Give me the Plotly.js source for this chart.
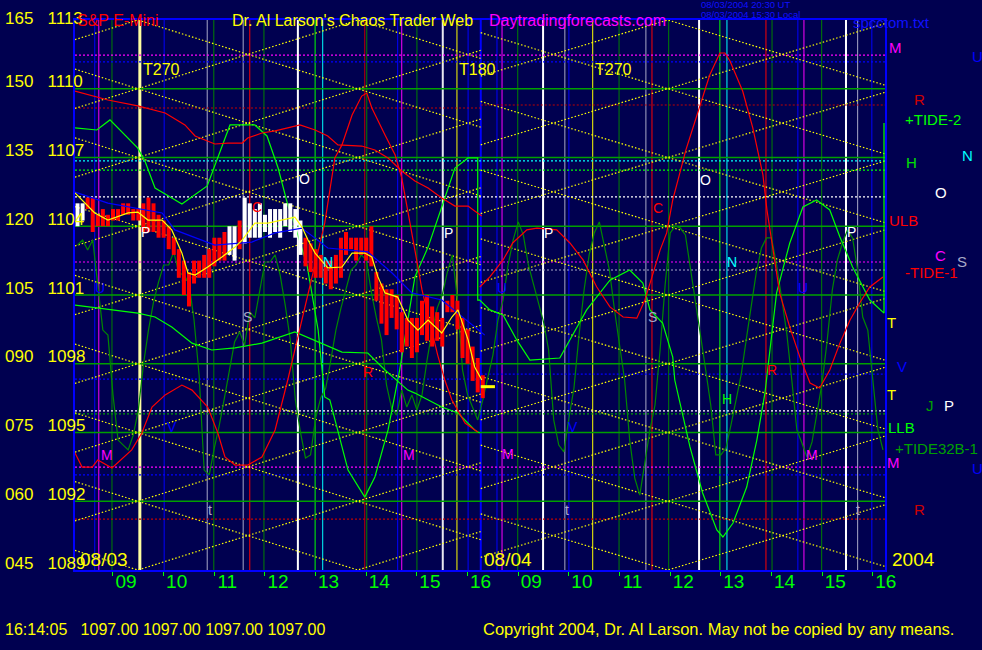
<!DOCTYPE html>
<html><head><meta charset="utf-8">
<script src="https://cdn.plot.ly/plotly-3.0.1.min.js"></script>
<style>html,body{margin:0;padding:0;background:#000050;}#chart{width:982px;height:650px;}</style>
</head><body><div id="chart"></div>
<script>
const FONT = 'Liberation Sans, Arial, sans-serif';
const NAVY = '#000050';

// x axis: session hours, 0 = 09:00 on 08/03, 8 = 09:00 on 08/04 (overnight compressed)
const hourTickVals = [0,1,2,3,4,5,6,7,8,9,10,11,12,13,14,15];
const hourTickText = ['09','10','11','12','13','14','15','16','09','10','11','12','13','14','15','16'];
const priceLevels = [1089,1092,1095,1098,1101,1104,1107,1110,1113];
const priceCodes  = ['045','060','075','090','105','120','135','150','165'];

// price bars 08/03
const barTimes = [-0.7,-0.6,-0.5,-0.4,-0.3,-0.2,-0.1,0.0,0.1,0.2,0.3,0.4,0.5,0.6,0.7,0.8,0.9,1.0,1.1,1.2,1.3,1.4,1.5,1.6,1.7,1.8,1.9,2.0,2.1,2.2,2.3,2.4,2.5,2.6,2.7,2.8,2.9,3.0,3.1,3.2,3.3,3.4,3.5,3.6,3.7,3.8,3.9,4.0,4.1,4.2,4.3,4.4,4.5,4.6,4.7,4.8,4.9,5.0,5.1,5.2,5.3,5.4,5.5,5.6,5.7,5.8,5.9,6.0,6.1,6.2,6.3,6.4,6.5,6.6,6.7,6.8,6.9,7.0,7.1,7.2,7.3];
const barHigh = [1105.0,1105.0,1105.25,1105.25,1104.5,1104.75,1104.5,1104.75,1104.75,1105.0,
 1105.0,1104.75,1104.75,1105.0,1105.25,1105.0,1104.5,1104.25,1104.0,1103.5,
 1103.0,1102.5,1102.0,1102.5,1102.5,1102.75,1103.0,1103.5,1103.5,1103.75,
 1104.0,1104.0,1104.25,1105.25,1105.0,1104.75,1105.0,1104.5,1104.75,1104.75,
 1104.75,1105.0,1105.0,1104.75,1104.25,1103.5,1103.25,1103.0,1102.75,1102.5,
 1102.5,1102.75,1103.5,1103.75,1103.5,1103.5,1103.5,1103.5,1104.0,1102.0,
 1101.5,1101.25,1101.25,1101.0,1100.25,1100.0,1100.0,1100.0,1100.75,1101.0,
 1100.5,1100.25,1100.0,1100.75,1101.0,1100.75,1100.0,1099.5,1098.75,1098.25,1097.5];
const barLow = [1104.0,1104.25,1104.75,1103.75,1104.0,1104.0,1104.0,1104.25,1104.25,1104.5,
 1104.5,1104.25,1104.25,1103.75,1103.75,1103.75,1103.5,1103.5,1103.0,1102.75,
 1101.75,1101.0,1100.5,1101.5,1101.75,1101.75,1101.75,1102.25,1102.5,1102.5,
 1102.75,1102.5,1103.0,1103.25,1103.5,1103.5,1103.5,1103.75,1103.5,1103.75,
 1103.5,1104.0,1103.75,1103.5,1102.75,1102.25,1102.0,1101.75,1101.75,1101.5,
 1101.25,1101.5,1101.75,1102.75,1103.0,1102.5,1102.75,1102.5,1102.25,1100.75,
 1099.75,1099.25,1100.0,1099.5,1098.5,1098.75,1098.25,1098.5,1099.25,1099.0,
 1098.75,1099.0,1098.75,1100.25,1100.25,1099.5,1098.25,1098.0,1097.25,1096.75,1096.5];
const barKind = 'WWRRRRRRRRRRRRRRRRRRRRRRRRRRRRWWRWWWWWWWWWWWWRRRRRRRRRRRRRRRRRRRRRRRRRRRRRRRRRRRR';
const lastTime = 7.26, lastPrice = 1097.00;

// short average (yellow) and slow average (blue)
const maTime = [-0.75,-0.36,-0.10,0.30,0.49,0.69,0.97,1.16,1.36,1.48,1.62,1.87,2.15,2.41,2.55,2.80,3.06,3.34,3.59,3.73,3.85,3.99,4.24,4.52,4.72,4.97,5.11,5.23,5.37,5.62,5.82,6.02,6.22,6.49,6.69,6.81,7.01,7.14,7.28];
const maVal = [1105.45,1104.58,1104.27,1104.58,1104.62,1104.27,1104.27,1103.84,1102.83,1101.96,1101.87,1102.22,1102.66,1103.09,1103.40,1104.14,1104.14,1104.27,1104.40,1103.97,1103.40,1102.83,1102.18,1102.22,1102.83,1102.83,1102.66,1101.79,1101.09,1100.91,1099.91,1099.47,1099.91,1099.34,1100.04,1100.35,1099.04,1097.86,1097.29];
const slowTime = [-0.75,-0.10,0.97,1.22,2.01,2.74,3.20,3.73,4.24,5.03,5.51,5.90,6.49,7.14,7.34];
const slowVal = [1105.49,1105.01,1104.58,1103.84,1103.18,1103.31,1103.71,1103.92,1103.05,1102.88,1101.96,1101.09,1100.78,1099.60,1099.25];

// +TIDE-2 (bright green)
const tide2Time = [-0.75,-0.32,-0.06,0.49,0.63,0.83,1.03,1.36,1.86,2.07,2.31,2.80,3.04,3.26,3.45,3.59,3.83,4.05,4.18,4.28,4.64,4.97,5.17,5.43,5.66,5.96,6.22,6.49,6.75,7.01,7.20,7.20,7.24,7.44,7.70,7.97,8.23,8.82,9.02,9.35,9.81,10.20,10.46,10.60,10.85,11.05,11.09,11.39,11.64,11.92,12.04,12.24,12.51,12.71,12.87,13.10,13.36,13.62,13.89,14.15,14.35,14.60,14.94,15.20,15.22,15.22];
const tide2Val = [1108.29,1108.20,1108.64,1107.41,1106.85,1105.67,1105.41,1104.97,1105.76,1106.98,1108.42,1108.42,1107.94,1106.54,1104.93,1104.05,1102.31,1099.47,1096.55,1096.42,1093.36,1092.18,1093.06,1095.11,1097.73,1101.79,1103.09,1104.84,1106.54,1106.98,1106.98,1100.78,1100.78,1100.35,1100.13,1099.04,1098.16,1098.25,1099.04,1100.35,1101.65,1102.09,1101.52,1100.35,1099.78,1098.29,1097.29,1094.37,1092.36,1090.75,1090.44,1091.05,1092.62,1094.67,1096.72,1101.09,1103.27,1104.84,1105.15,1104.71,1103.53,1102.22,1100.78,1100.21,1100.21,1108.51];
// lower bright green tide 08/03
const tideLowTime = [-0.75,0.49,0.83,1.16,1.56,1.95,2.41,2.94,3.59,4.12,4.52,5.03,5.37,5.82,5.96,6.49,6.81,7.14,7.24];
const tideLowVal = [1100.56,1100.21,1100.04,1099.60,1098.90,1098.60,1098.69,1098.90,1099.39,1098.90,1098.51,1098.47,1097.73,1096.85,1096.72,1096.11,1095.85,1095.11,1094.98];
// +TIDE32B-1 (dark green), every 0.1 h from -0.7
const tide32Start = -0.7, tide32Step = 0.1;
const tide32Val = [1103.18,1103.40,1102.96,1103.40,1101.44,1099.47,1099.25,1096.64,1094.67,1094.45,
1094.24,1094.89,1095.98,1097.95,1099.47,1100.69,1101.57,1102.31,1102.31,1102.88,
1101.96,1101.87,1101.52,1099.91,1097.51,1093.36,1093.15,1094.32,1095.33,1096.51,
1097.81,1098.95,1099.39,1098.82,1100.26,1100.00,1101.22,1102.44,1102.44,1102.75,
1101.87,1100.56,1099.04,1096.42,1095.02,1093.89,1094.02,1095.63,1096.51,1096.94,
1098.16,1099.47,1100.43,1101.22,1102.09,1102.31,1102.75,1102.53,1101.13,1100.00,
1099.04,1097.07,1096.07,1095.76,1096.85,1096.11,1096.64,1095.98,1096.64,1098.16,
1099.47,1100.43,1101.00,1102.00,1102.75,1100.78,1097.73,1096.64,1096.07,1095.55,
1096.42,
1097.38,1098.38,1099.91,1100.78,1102.31,1103.40,1104.19,1103.62,1102.31,1101.44,
1100.65,1099.82,1098.60,1095.55,1094.45,1094.15,1095.63,1096.94,1099.25,1101.22,
1102.75,1103.71,1104.19,1103.18,1102.09,1100.35,1098.82,1097.29,1094.67,1093.01,
1092.27,1093.80,1095.11,1096.20,1098.60,1101.44,1103.71,1104.01,1103.92,1103.62,
1102.18,1100.69,1099.25,1097.73,1096.20,1094.02,1094.02,1094.32,1095.33,1096.42,
1097.51,1099.04,1100.56,1102.00,1103.05,1103.49,1103.49,1102.31,1100.87,1099.34,
1097.29,1095.11,1094.54,1093.93,1094.59,1095.85,1097.20,1099.04,1101.22,1102.53,
1103.27,1103.84,1103.49,1102.09,1100.04,1099.47,1097.16,1095.11,1094.24];
// red tides
const red1Time = [-0.75,-0.10,0.49,1.03,1.42,1.62,2.01,2.27,2.55,2.66,2.94,3.20,3.45,3.69,3.99,4.24,4.44,4.91,5.17,5.43,5.70,5.96,6.22,6.49,6.75,7.01,7.14,7.28];
const red1Val = [1109.90,1109.51,1109.25,1108.94,1108.42,1107.94,1107.59,1107.63,1107.63,1107.85,1108.07,1108.16,1108.29,1108.42,1108.20,1107.94,1107.55,1107.50,1107.33,1106.98,1106.41,1105.97,1105.67,1105.23,1104.88,1104.88,1104.67,1104.45];
const red2Time = [-0.75,-0.61,-0.41,-0.30,-0.02,0.37,0.57,0.77,1.03,1.36,1.56,1.87,2.07,2.21,2.41,2.66,2.94,3.20,3.45,3.79,3.99,4.18,4.38,4.52,4.72,4.91,5.01,5.11,5.37,5.57,5.70,5.82,5.96,6.10,6.26,6.41,6.55,6.69,6.95,7.20];
const red2Val = [1094.11,1093.49,1093.49,1093.80,1093.45,1094.24,1094.98,1096.11,1096.64,1097.07,1096.85,1096.11,1094.98,1093.93,1093.58,1093.58,1093.93,1095.11,1097.29,1100.48,1102.40,1104.14,1106.98,1107.55,1108.85,1109.68,1109.81,1109.16,1107.98,1107.11,1106.11,1104.71,1102.96,1101.22,1099.69,1098.38,1097.29,1096.42,1095.41,1095.02];
const red3Time = [7.24,7.44,7.70,7.89,8.17,8.37,8.76,9.02,9.28,9.55,9.81,10.07,10.34,10.50,10.64,10.80,10.93,11.05,11.31,11.58,11.78,11.98,12.08,12.18,12.43,12.63,12.83,12.91,13.03,13.16,13.36,13.56,13.76,13.95,14.15,14.35,14.55,14.74,14.94,15.20];
const red3Val = [1101.35,1101.79,1102.53,1103.27,1103.84,1103.92,1103.84,1103.27,1102.53,1101.35,1100.48,1100.04,1099.99,1100.78,1101.79,1102.96,1103.71,1105.15,1107.33,1109.16,1110.60,1111.56,1111.56,1111.21,1109.90,1108.29,1106.24,1104.71,1102.96,1101.09,1099.60,1098.29,1097.16,1096.94,1097.73,1098.90,1099.91,1100.65,1101.35,1101.79];

// time lines
const vLineTimes  = [-0.36,-0.28,-0.02,0.53,1.01,1.86,1.99,2.57,2.70,2.98,3.65,3.99,4.14,4.97,5.01,5.62,5.70,6.00,6.51,6.79,7.01,7.26,7.58,7.68,7.99,8.49,8.92,9.00,9.47,9.99,10.52,10.64,10.97,11.57,11.98,12.12,12.89,13.01,13.52,13.64,13.99,14.47,14.70,14.98];
const vLineColors = ['#0000ff','#ff00ff','#008000','#ffffa0','#0000ff','#a8a8c8','#008000','#a8a8c8','#ff0000','#008000','#ffffff','#00ff00','#00ffff','#c00000','#008000','#0000ff','#ff00ff','#008000','#e8e8f0','#ffff00','#0000ff','#0000ff','#0000ff','#ff00ff','#008000','#ffffff','#a8a8c8','#0000ff','#ffff00','#008000','#a8a8c8','#ff0000','#008000','#ffffff','#00ff00','#00ffff','#ff0000','#008000','#0000ff','#ff00ff','#008000','#ffffff','#a8a8c8','#0000ff'];
const vLineWidths = [1,1,1,3,1,1,1,1,1,1,2,1,1,1,1,1,1,1,2,1,1,2,1,1,1,2,1,1,1,1,1,1,1,2,1,1,1,1,1,1,1,2,1,1];

// price level lines (dotted)
const hLinePrices = [1111.47,1111.17,1109.16,1109.29,1106.85,1106.45,1105.28,1102.44,1102.09,1097.33,1097.55,1095.94,1095.81,1093.49,1093.15,1091.22];
const hLineColors = ['#ff00ff','#0000ff','#c00000','#c00000','#00ffff','#00ff00','#ffffff','#ff00ff','#a8a8c8','#0000ff','#0000ff','#ffffff','#00a000','#ff00ff','#0000ff','#c00000'];
const hLineFrom = [-0.75,-0.75,-0.75,7.26,-0.75,-0.75,-0.75,-0.75,-0.75,-0.75,7.26,-0.75,-0.75,-0.75,-0.75,-0.75];
const hLineTo   = [15.24,15.24,7.26,15.24,15.24,15.24,15.24,15.24,15.24,7.26,15.24,15.24,15.24,15.24,15.24,15.24];

// solid level lines
const gridPrices = [1092,1095,1098,1101,1104,1107,1110];

// time/price lattice (pivot time, slope in points per hour, window)
const latticePivot = [0.49, 10.95];
const latticeSlope = [0.691, 0.663];
const latticeFrom  = [-0.75, 7.26];
const latticeTo    = [7.26, 15.24];
const latticeStep = 3;

const X0 = -0.75, X1 = 15.24, Y0 = 1089, Y1 = 1113;

const traces = [];
{
  const lx = [], ly = [];
  for (let w = 0; w < latticePivot.length; w++) {
    const p = latticePivot[w], s = latticeSlope[w], a = latticeFrom[w], b = latticeTo[w];
    for (let L = 1074; L <= 1128; L += latticeStep) {
      for (const sg of [1, -1]) {
        lx.push(a, b, null);
        ly.push(L + sg*s*(a-p), L + sg*s*(b-p), null);
      }
    }
  }
  traces.push({x: lx, y: ly, mode: 'lines', line: {color: '#ffff00', width: 1.2, dash: '1.5px,2px'}, hoverinfo: 'skip'});
}
function line(x, y, color, width) {
  return {x, y, mode: 'lines', line: {color, width: width || 1}, hoverinfo: 'skip'};
}
const tide32Time = tide32Val.map((v, i) => +(tide32Start + i*tide32Step).toFixed(2));
traces.push(line(tide32Time, tide32Val, '#008800', 1.2));
traces.push(line(tideLowTime, tideLowVal, '#00ff00', 1.2));
traces.push(line(tide2Time, tide2Val, '#00ff00', 1.2));
traces.push(line(red1Time, red1Val, '#ff0000', 1.2));
traces.push(line(red2Time, red2Val, '#ff0000', 1.2));
traces.push(line(red3Time, red3Val, '#ff0000', 1.2));
for (const kind of ['R', 'W']) {
  const bx = [], by = [];
  barTimes.forEach((t, i) => {
    if (barKind[i] === kind) { bx.push(t, t, null); by.push(barLow[i], barHigh[i], null); }
  });
  traces.push({x: bx, y: by, mode: 'lines', line: {color: kind === 'R' ? '#ff0000' : '#ffffff', width: 4}, hoverinfo: 'skip'});
}
traces.push(line(slowTime, slowVal, '#0000ff', 1.2));
traces.push(line(maTime, maVal, '#ffff00', 1.2));
traces.push({x: [lastTime, lastTime + 0.28], y: [lastPrice, lastPrice], mode: 'lines', line: {color: '#ffff00', width: 3}, hoverinfo: 'skip'});

const shapes = [];
vLineTimes.forEach((t, i) => shapes.push({type: 'line', xref: 'x', yref: 'paper', x0: t, x1: t, y0: 0, y1: 1, layer: 'below', line: {color: vLineColors[i], width: vLineWidths[i]}}));
gridPrices.forEach(p => shapes.push({type: 'line', xref: 'paper', yref: 'y', x0: 0, x1: 1, y0: p, y1: p, layer: 'below', line: {color: '#00a000', width: 1.5}}));
hLinePrices.forEach((p, i) => shapes.push({type: 'line', xref: 'x', yref: 'y', x0: hLineFrom[i], x1: hLineTo[i], y0: p, y1: p, layer: 'below', line: {color: hLineColors[i], width: 1.2, dash: '2px,2px'}}));

const ann = [];
function A(o) { ann.push(Object.assign({showarrow: false, font: {family: FONT, size: 15, color: '#ffffff'}}, o)); }
priceLevels.forEach((p, i) => A({xref: 'paper', yref: 'y', x: -0.0889, y: p, xanchor: 'left', yanchor: 'middle', yshift: p === 1113 ? 2 : 7,
  text: priceCodes[i] + '\u00a0\u00a0 ' + p, font: {family: FONT, size: 17, color: '#ffff00'}}));
A({xref: 'paper', yref: 'paper', x: 0, y: 1.018, xanchor: 'left', text: 'S&amp;P E-Mini', font: {family: FONT, size: 16, color: '#ff0000'}});
A({xref: 'paper', yref: 'paper', x: 0.191, y: 1.018, xanchor: 'left', text: "Dr. Al Larson's Chaos Trader Web", font: {family: FONT, size: 16, color: '#ffff00'}});
A({xref: 'paper', yref: 'paper', x: 0.5086, y: 1.018, xanchor: 'left', text: 'Daytradingforecasts.com', font: {family: FONT, size: 16, color: '#ff00ff'}});
A({xref: 'paper', yref: 'paper', x: 0.7716, y: 1.028, xanchor: 'left', yanchor: 'middle', borderpad: 0, text: '08/03/2004 20:30 UT', font: {family: FONT, size: 9.5, color: '#1010ff'}});
A({xref: 'paper', yref: 'paper', x: 0.7716, y: 1.0105, xanchor: 'left', yanchor: 'middle', borderpad: 0, text: '08/03/2004 15:30 Local', font: {family: FONT, size: 9.5, color: '#1010ff'}});
A({xref: 'paper', yref: 'paper', x: 0.958, y: 1.0145, xanchor: 'left', text: 'spcctom.txt', font: {family: FONT, size: 15, color: '#1010ff'}});
A({xref: 'paper', yref: 'paper', x: -0.0889, y: -0.127, xanchor: 'left', text: '16:14:05\u00a0\u00a0 1097.00 1097.00 1097.00 1097.00', font: {family: FONT, size: 16, color: '#ffff00'}});
A({xref: 'paper', yref: 'paper', x: 0.501, y: -0.127, xanchor: 'left', text: 'Copyright 2004, Dr. Al Larson. May not be copied by any means.', font: {family: FONT, size: 16.5, color: '#ffff00'}});
A({xref: 'x', yref: 'y', x: -0.69, y: 1089.48, xanchor: 'left', text: '08/03', font: {family: FONT, size: 19, color: '#ffff00'}});
A({xref: 'x', yref: 'y', x: 7.28, y: 1089.48, xanchor: 'left', text: '08/04', font: {family: FONT, size: 19, color: '#ffff00'}});
A({xref: 'paper', yref: 'y', x: 1.006, y: 1089.48, xanchor: 'left', text: '2004', font: {family: FONT, size: 19, color: '#ffff00'}});
const inLabels = [
 ['T270',0.55,1110.82,'#ffff00',16],['T180',6.79,1110.82,'#ffff00',16],['T270',9.47,1110.82,'#ffff00',16],
 ['O',3.79,1106.06,'#ffffff',14],['O',11.70,1106.02,'#ffffff',14],
 ['C',2.84,1104.84,'#ff0000',14],['C',10.76,1104.80,'#ff0000',14],
 ['P',0.65,1103.75,'#ffffff',14],['P',6.63,1103.71,'#ffffff',14],['P',8.60,1103.71,'#ffffff',14],['P',14.58,1103.75,'#ffffff',14],
 ['N',4.24,1102.44,'#00ffff',14],['N',12.22,1102.44,'#00ffff',14],
 ['U',-0.26,1101.31,'#0000ff',14],['U',7.68,1101.31,'#0000ff',14],['U',13.62,1101.31,'#0000ff',14],
 ['S',2.66,1100.04,'#a8a8c8',14],['S',10.66,1100.04,'#a8a8c8',14],
 ['R',5.03,1097.64,'#ff0000',14],['R',13.01,1097.73,'#ff0000',14],
 ['H',12.12,1096.46,'#00ff00',14],
 ['V',1.16,1095.24,'#0000ff',14],['V',9.08,1095.24,'#0000ff',14],
 ['M',-0.12,1094.02,'#ff00ff',14],['M',5.84,1094.02,'#ff00ff',14],['M',7.80,1094.06,'#ff00ff',14],['M',13.80,1094.02,'#ff00ff',14],
 ['t',1.91,1091.62,'#a8a8c8',14],['t',8.96,1091.62,'#a8a8c8',14],['t',14.70,1091.62,'#a8a8c8',14]
];
inLabels.forEach(l => A({xref: 'x', yref: 'y', x: l[1], y: l[2], xanchor: l[0].length > 1 ? 'left' : 'center', text: l[0], font: {family: FONT, size: l[4], color: l[3]}}));
const sideLabels = [
 ['M',1.0025,1111.82,'#ff00ff'],['U',1.105,1111.39,'#0000ff'],['R',1.033,1109.55,'#d00000'],['+TIDE-2',1.022,1108.68,'#00ff00'],
 ['N',1.093,1107.07,'#00ffff'],['H',1.023,1106.80,'#00e000'],['O',1.059,1105.49,'#ffffff'],['ULB',1.0025,1104.23,'#ff0000'],
 ['C',1.059,1102.72,'#ff00ff'],['S',1.086,1102.45,'#a8a8c8'],['-TIDE-1',1.022,1101.98,'#ff0000'],['T',1.0,1099.78,'#ffff00'],
 ['V',1.012,1097.86,'#0000ff'],['T',1.0,1096.68,'#ffff00'],['J',1.048,1096.16,'#00a000'],['P',1.07,1096.20,'#ffffff'],
 ['LLB',1.001,1095.24,'#00ff00'],['+TIDE32B-1',1.010,1094.30,'#00a000'],['M',1.0,1093.70,'#ff00ff'],['U',1.105,1093.45,'#0000ff'],
 ['R',1.033,1091.62,'#d00000']
];
sideLabels.forEach(l => A({xref: 'paper', yref: 'y', x: l[1], y: l[2], xanchor: 'left', text: l[0], font: {family: FONT, size: 15, color: l[3]}}));

const layout = {
  width: 982, height: 650,
  margin: {l: 75, r: 97, t: 20, b: 80, pad: 0},
  paper_bgcolor: NAVY, plot_bgcolor: NAVY,
  showlegend: false,
  font: {family: FONT, color: '#ffff00'},
  xaxis: {range: [X0, X1], showgrid: false, zeroline: false, tickmode: 'array', tickvals: hourTickVals, ticktext: hourTickText,
    tickfont: {family: FONT, size: 19, color: '#00ff00'}, ticks: 'outside', ticklen: 4, tickwidth: 1, tickcolor: '#00ff00',
    ticklabelshift: 13, ticklabelstandoff: -11,
    showline: true, linecolor: '#0000ff', linewidth: 2, mirror: true},
  yaxis: {range: [Y0, Y1], showgrid: false, zeroline: false, showticklabels: false, ticks: '',
    showline: true, linecolor: '#0000ff', linewidth: 2, mirror: true},
  shapes, annotations: ann
};
Plotly.newPlot('chart', traces, layout, {staticPlot: true, displayModeBar: false});
</script></body></html>
